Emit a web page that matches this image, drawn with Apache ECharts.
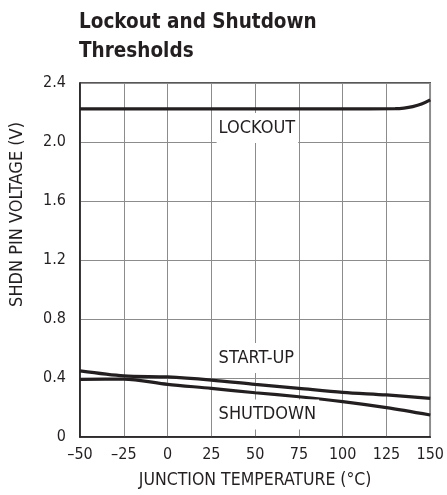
<!DOCTYPE html>
<html>
<head>
<meta charset="utf-8">
<script src="https://cdn.jsdelivr.net/npm/echarts@6/dist/echarts.min.js"></script>
<style>
  html, body { margin: 0; padding: 0; background: #fff; }
  #main { width: 447px; height: 495px; }
</style>
</head>
<body>
<div id="main"></div>
<script>
const FONT = '"DejaVu Sans Condensed", "Liberation Sans", Arial, sans-serif'
const INK = '#231f20'

// temperature (°C)
const temps = [-50, -25, 0, 25, 50, 75, 100, 125, 150]
// threshold voltages
const startUp = [0.448, 0.414, 0.407, 0.386, 0.357, 0.33, 0.303, 0.285, 0.262]
const shutdown = [0.391, 0.393, 0.357, 0.33, 0.30, 0.273, 0.24, 0.199, 0.149]
const lockoutTemps = [-50, 0, 50, 100, 130, 135, 140, 145, 150]
const lockout = [2.225, 2.225, 2.225, 2.225, 2.226, 2.23, 2.24, 2.257, 2.285]

// in-plot labels: name, temperature (left edge), voltage
const labelNames = ['LOCKOUT', 'START-UP', 'SHUTDOWN']
const labelTemps = [28, 28, 28]
const labelVolts = [2.095, 0.536, 0.153]

const xTicks = [-50, 150, 25]   // min, max, interval
const yTicks = [0, 2.4, 0.4]

const pair = (xs, ys) => xs.map((x, i) => [x, ys[i]])

const chart = echarts.init(document.getElementById('main'))

const lineStyle = { color: INK, width: 3.2 }

chart.setOption({
  animation: false,
  backgroundColor: '#fff',
  textStyle: { fontFamily: FONT },
  title: {
    text: 'Lockout and Shutdown\nThresholds',
    left: 74,
    top: 3,
    textStyle: {
      fontFamily: FONT, fontWeight: 'bold', fontSize: 20.5, lineHeight: 29, color: INK
    }
  },
  grid: { left: 80, right: 16, top: 83, bottom: 58, show: true, borderColor: INK, borderWidth: 1.5 },
  xAxis: {
    type: 'value',
    min: xTicks[0], max: xTicks[1], interval: xTicks[2],
    name: 'JUNCTION TEMPERATURE (°C)',
    nameLocation: 'middle',
    nameGap: 34,
    nameTextStyle: { fontFamily: FONT, fontSize: 17.5, color: INK },
    axisLine: { onZero: false, lineStyle: { color: INK, width: 1.5 } },
    axisTick: { show: false },
    axisLabel: {
      fontFamily: FONT, fontSize: 16, color: INK, margin: 10,
      formatter: v => String(v).replace('-', '\u2013')
    },
    splitLine: { lineStyle: { color: '#8c8c8c', width: 1 } }
  },
  yAxis: {
    type: 'value',
    min: yTicks[0], max: yTicks[1], interval: yTicks[2],
    axisLine: { show: true, onZero: false, lineStyle: { color: INK, width: 1.5 } },
    axisTick: { show: false },
    axisLabel: {
      fontFamily: FONT, fontSize: 16, color: INK, margin: 14,
      formatter: v => (v === 0 ? '0' : v.toFixed(1))
    },
    splitLine: { lineStyle: { color: '#8c8c8c', width: 1 } }
  },
  graphic: [{
    type: 'text',
    left: 8,
    top: 122,
    rotation: Math.PI / 2,
    style: { text: 'SHDN PIN VOLTAGE (V)', fontFamily: FONT, fontSize: 18, fill: INK }
  }],
  series: [
    {
      type: 'line', data: pair(lockoutTemps, lockout), smooth: 0.4,
      symbol: 'none', lineStyle, z: 3
    },
    {
      type: 'line', data: pair(temps, startUp), smooth: 0.3,
      symbol: 'none', lineStyle, z: 3
    },
    {
      type: 'line', data: pair(temps, shutdown), smooth: 0.3,
      symbol: 'none', lineStyle, z: 3,
      markPoint: {
        symbol: 'circle', symbolSize: 0,
        data: labelNames.map((n, i) => ({
          name: n,
          coord: [labelTemps[i], labelVolts[i]],
          label: {
            show: true, formatter: n, position: 'right', distance: 0,
            fontFamily: FONT, fontSize: 18, color: INK,
            backgroundColor: '#fff', padding: [6, 3, 6, 2]
          }
        }))
      }
    }
  ]
})
</script>
</body>
</html>
